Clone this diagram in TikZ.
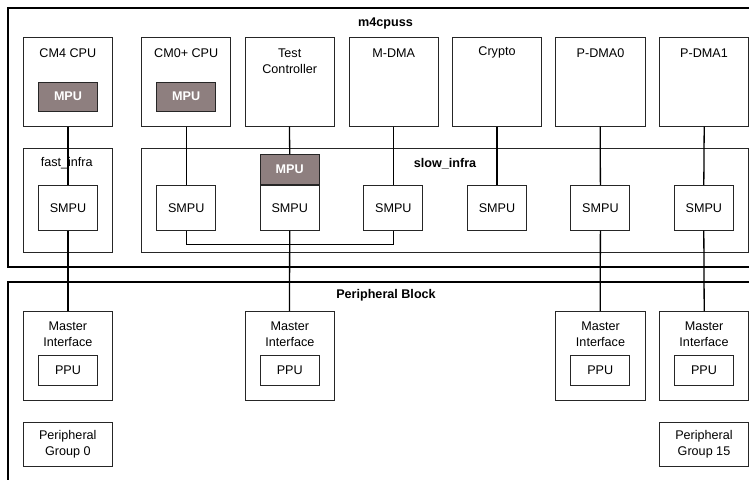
\documentclass[tikz,border=0pt]{standalone}
\usepackage{fontspec}
\setmainfont{Liberation Sans}
\definecolor{mpufill}{HTML}{8E7F7F}
\begin{document}
\begin{tikzpicture}[x=1pt,y=-1pt,
  font=\fontsize{12.6}{16}\selectfont,
  outerbox/.style={draw=black,line width=2pt},
  blockbox/.style={draw=black!85,line width=0.9pt},
  smallbox/.style={draw=black!85,line width=0.9pt,minimum width=59pt,minimum height=44.7pt,inner sep=0pt},
  mpubox/.style={draw=black!85,line width=0.9pt,fill=mpufill,text=white,font=\fontsize{12.6}{16}\selectfont\bfseries,minimum width=59.4pt,minimum height=29.5pt,inner sep=0pt},
  ppubox/.style={draw=black!85,line width=0.9pt,minimum width=59.4pt,minimum height=29.7pt,inner sep=0pt},
  wire/.style={draw=black,line width=1.3pt},
  title/.style={font=\fontsize{12.6}{16}\selectfont\bfseries},
  lbl/.style={align=center,inner sep=0pt}
]
\useasboundingbox (0,0) rectangle (749,479);
% outer boxes (open on the right)
\draw[outerbox] (760,7.5) -- (8.3,7.5) -- (8.3,266.7) -- (760,266.7);
\node[title] (m4) at (385.5,23) {m4cpuss};
\draw[outerbox] (760,282.3) -- (8.3,282.3) -- (8.3,490);
\node[title] (pb) at (386,295.5) {Peripheral Block};

% master boxes
\foreach \n/\xa/\xb in {cm4/23.3/112.3, cm0/141.7/230.7, tc/245.3/334, mdma/349/438.3, cry/452.3/541.7, pd0/555.7/645.3, pd1/659.7/748.3}{
  \draw[blockbox] (\xa,37.7) rectangle (\xb,126.7);
  \coordinate (\n-b) at ({(\xa+\xb)/2},126.7);
}
\node[lbl] (cm4t) at (67.8,52.7) {CM4 CPU};
\node[lbl] (cm0t) at (186.2,52.7) {CM0+ CPU};
\node[lbl] (tct) at (289.7,61) {Test\\Controller};
\node[lbl] (mdmat) at (393.7,52.7) {M-DMA};
\node[lbl] (cryt) at (497,52.7) {Crypto};
\node[lbl] (pd0t) at (600.5,52.7) {P-DMA0};
\node[lbl] (pd1t) at (704,52.7) {P-DMA1};
\node[mpubox] (mpu1) at (68,96.7) {MPU};
\node[mpubox] (mpu2) at (186.2,96.7) {MPU};

% infra boxes
\draw[blockbox] (23.3,148.7) rectangle (112.3,252.3);
\node[lbl] (fastt) at (66.7,163.3) {fast\_infra};
\draw[blockbox] (141.7,148.7) rectangle (748.3,252.3);
\node[title] (slowt) at (445,163.3) {slow\_infra};

% SMPUs
\node[smallbox] (s1) at (68,207.7) {SMPU};
\node[smallbox] (s2) at (186.2,207.7) {SMPU};
\node[smallbox] (s3) at (289.7,207.7) {SMPU};
\node[smallbox] (s4) at (393.3,207.7) {SMPU};
\node[smallbox] (s5) at (497,207.7) {SMPU};
\node[smallbox] (s6) at (600.4,207.7) {SMPU};
\node[smallbox] (s7) at (703.8,207.7) {SMPU};
\node[mpubox,anchor=south,minimum height=29.6pt] (mpu3) at (s3.north) {MPU};

% master interfaces
\foreach \n/\xa/\xb in {mi1/23.3/112.3, mi2/245.3/334.3, mi3/555.7/645.3, mi4/659.7/748.3}{
  \draw[blockbox] (\xa,311) rectangle (\xb,400);
  \node[lbl] (\n-t) at ({(\xa+\xb)/2},334) {Master\\Interface};
  \coordinate (\n) at ({(\xa+\xb)/2},311);
}
\node[ppubox] (p1) at (68,370.2) {PPU};
\node[ppubox] (p2) at (289.7,370.2) {PPU};
\node[ppubox] (p3) at (600.2,370.2) {PPU};
\node[ppubox] (p4) at (704,370.2) {PPU};

% peripheral groups
\node[blockbox,lbl,minimum width=89pt,minimum height=44.4pt] (pg0) at (67.8,444.5) {Peripheral\\Group 0};
\node[blockbox,lbl,minimum width=88.6pt,minimum height=44.4pt] (pg15) at (704,444.5) {Peripheral\\Group 15};

% wires
\draw[wire] (68,126.7) -- (s1.north);
\draw[wire] (s1.south) -- (68,311);
\draw[wire] (186.2,126.7) -- (s2.north);
\draw[wire] (289.5,126.7) -- (mpu3.north);
\draw[wire] (s3.south) -- (289.5,311);
\draw[wire] (393.3,126.7) -- (s4.north);
\draw[wire] (497,126.7) -- (s5.north);
\draw[wire] (600.2,126.7) -- (s6.north);
\draw[wire] (s6.south) -- (600.2,311);
\draw[wire] (704.2,126.7) -- (s7.north);
\draw[wire] (s7.south) -- (704.2,311);
\draw[wire] (s2.south) -- (186.2,244.3) -- (393.3,244.3) -- (s4.south);
\end{tikzpicture}
\end{document}
